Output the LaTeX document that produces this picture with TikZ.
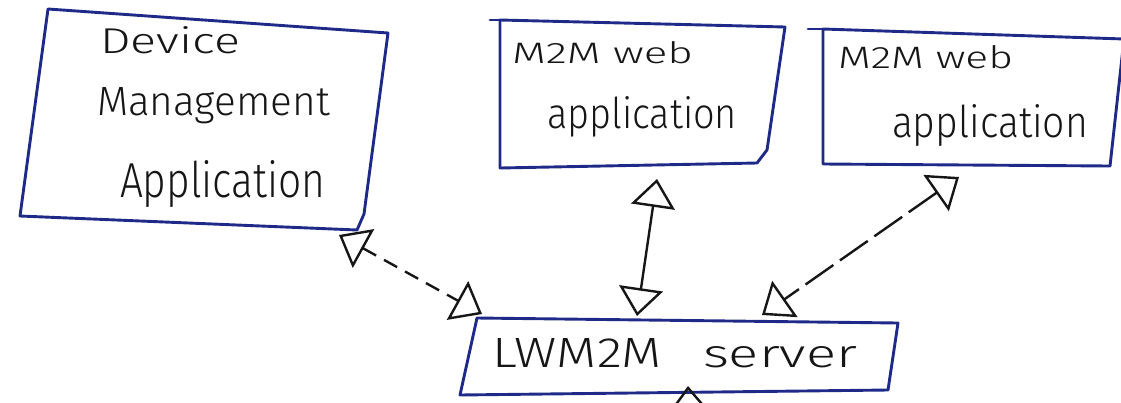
\documentclass[tikz,border=0pt]{standalone}
\usepackage{fontspec}
\setmainfont{Fira Sans}[UprightFont={* Light}]
\usetikzlibrary{arrows.meta}
\definecolor{penblue}{HTML}{1F2A88}
\definecolor{ink}{HTML}{161616}
% a handwritten-looking word, stretched to a given width and height
\newcommand{\handword}[3]{\resizebox{#1pt}{#2pt}{#3}}

\begin{document}
\begin{tikzpicture}[x=1pt,y=-1pt,
  boxline/.style={draw=penblue, line width=2.9pt, line join=round, line cap=round},
  txt/.style={anchor=base west, inner sep=0pt, outer sep=0pt, text=ink,
              font=\fontsize{40}{44}\selectfont},
  link/.style={draw=ink, line width=2.4pt,
    arrows={Triangle[open,length=28pt,width=44pt]-Triangle[open,length=28pt,width=44pt]}},
  dashlink/.style={link, dash pattern=on 15pt off 9pt},
  longdash/.style={link, dash pattern=on 34pt off 8pt},
  stub/.style={draw=ink, line width=2.4pt,
    arrows={-Triangle[open,length=28pt,width=44pt]}},
]
\useasboundingbox (0,0) rectangle (1121,402);

% ---- Device Management Application box
\coordinate (dm-nw) at (48,9);
\coordinate (dm-ne) at (388,33);
\coordinate (dm-se) at (357,230);
\coordinate (dm-sw) at (20,216);
\draw[boxline] (dm-nw) -- (dm-ne) -- (364,214) -- (dm-se) -- (dm-sw) -- cycle;
\node[txt] (dm-l1) at (100,53)  {\handword{140}{27}{Device}};
\node[txt] (dm-l2) at (97,115)  {\handword{233}{28}{Management}};
\node[txt] (dm-l3) at (120,197) {\handword{205}{37}{Application}};

% ---- first M2M web application box
\coordinate (w1-nw) at (500,20);
\coordinate (w1-ne) at (785,27);
\coordinate (w1-se) at (757,163);
\coordinate (w1-sw) at (500,168);
\draw[boxline] (w1-nw) -- (w1-ne) -- (767,150) -- (w1-se) -- (w1-sw) -- cycle;
\draw[boxline] (490,20) -- (w1-nw);
\node[txt] (w1-l1) at (512,63)  {\handword{181}{22}{M2M web}};
\node[txt] (w1-l2) at (547,128) {\handword{190}{32}{application}};

% ---- second M2M web application box
\coordinate (w2-nw) at (823,29);
\coordinate (w2-ne) at (1124,39);
\coordinate (w2-se) at (1110,166);
\coordinate (w2-sw) at (823,164);
\draw[boxline] (w2-nw) -- (w2-ne) -- (w2-se) -- (w2-sw) -- cycle;
\draw[boxline] (808,29) -- (w2-nw);
\node[txt] (w2-l1) at (838,68)  {\handword{175}{23}{M2M web}};
\node[txt] (w2-l2) at (892,137) {\handword{196}{33}{application}};

% ---- LWM2M server box
\coordinate (sv-nw) at (477,318);
\coordinate (sv-ne) at (898,323);
\coordinate (sv-se) at (888,390);
\coordinate (sv-sw) at (460,395);
\draw[boxline] (sv-nw) -- (sv-ne) -- (sv-se) -- (sv-sw) -- cycle;
\node[txt] (sv-l1) at (492,367) {\handword{170}{29}{LWM2M}};
\node[txt] (sv-l2) at (703,367) {\handword{154}{21}{server}};

% ---- connector end points
\coordinate (dm-port)  at (339,235);
\coordinate (sv-pa)    at (482,314);
\coordinate (w1-port)  at (657,179);
\coordinate (sv-pb)    at (637,316);
\coordinate (w2-port)  at (959,177);
\coordinate (sv-pc)    at (762,315);
\coordinate (sv-pd)    at (688,386);
\coordinate (feed)     at (691,460);

% ---- connectors
\draw[dashlink] (dm-port) -- (sv-pa);
\draw[link]     (w1-port) -- (sv-pb);
\draw[longdash] (w2-port) -- (sv-pc);
\begin{scope}
  \clip (0,0) rectangle (1121,402);
  \draw[stub] (feed) -- (sv-pd);
\end{scope}
\end{tikzpicture}
\end{document}
